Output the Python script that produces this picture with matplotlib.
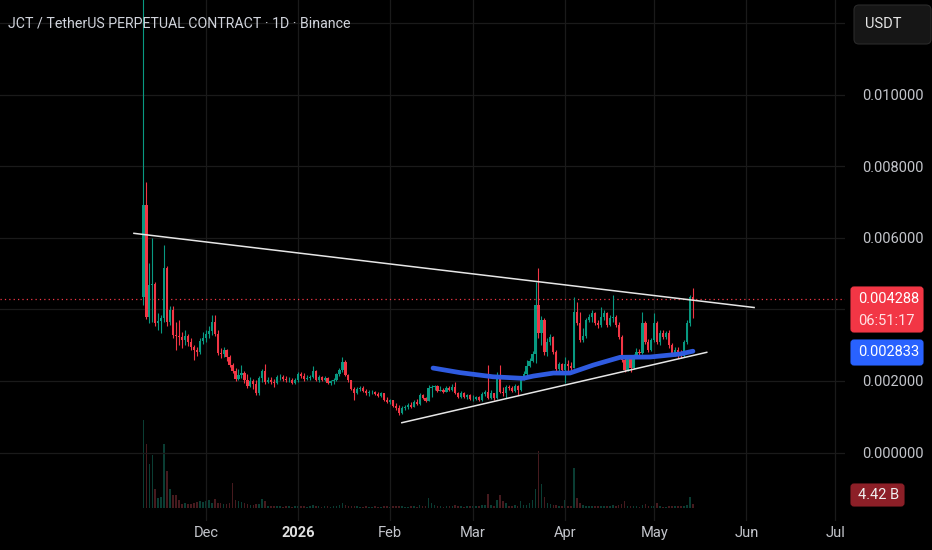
import numpy as np
import pandas as pd
import matplotlib
matplotlib.use("Agg")
import matplotlib.pyplot as plt
import matplotlib.dates as mdates
from matplotlib.patches import FancyBboxPatch
from matplotlib.transforms import IdentityTransform

plt.rcParams["font.family"] = ["Roboto", "DejaVu Sans"]

# daily candles, prices in micro-USDT (1e-6), first candle 2025-11-10
FIRST_DAY = "2025-11-10"
FIRST_OPEN = 4343
CLOSE = [
    6919, 3790, 4679, 4707, 3622, 3678, 3762, 5155, 3650, 3986, 3286, 3258, 3230, 3146, 3258, 3090, 2950, 2866, 2810,
    3118, 3202, 3314, 3398, 3650, 3314, 2782, 2754, 2866, 2670, 2446, 2278, 2054, 2166, 2222, 2026, 1858, 1998, 1914,
    1662, 2082, 2278, 1970, 2026, 1970, 1942, 2110, 2110, 2054, 2026, 2026, 1942, 2026, 2194, 2138, 2054, 2082, 2110,
    2278, 2026, 2110, 2026, 2082, 1942, 1998, 2026, 2194, 2306, 2530, 2166, 2026, 1774, 1662, 1774, 1802, 1718, 1662,
    1690, 1690, 1634, 1578, 1662, 1466, 1410, 1466, 1298, 1242, 1102, 1242, 1270, 1326, 1270, 1410, 1354, 1606, 1522,
    1438, 1802,
    1830, 1858, 1718, 1746, 1690, 1802, 1746, 1830, 1662, 1550, 1662, 1550, 1606, 1494, 1494, 1550, 1466, 1634, 1690,
    1522, 1662, 1522, 2166, 1690, 1662, 1830, 1802, 1718, 1858, 1746, 2082, 2194, 2418, 2558, 2754, 4126, 3342, 3706,
    2810, 3090, 3230, 2810, 2334, 2474, 2306, 2474, 2418, 2362,
    3930, 3622, 3146, 3258, 3706, 3790, 3902, 3622, 3566, 3790, 3902, 3566, 3762, 3790, 3566, 3230, 2586, 2306, 2642,
    2362, 2670, 2810, 2782, 3622, 3090, 2866, 3146, 3622, 3090, 3342, 3230, 3342, 3006, 2782, 2866, 2726, 2700, 3090,
    3622, 4343, 4288,
]
HIGH = [
    14000, 7563, 5295, 5995, 4763, 3902, 3846, 5799, 5211, 4098, 4098, 3650, 3706, 3370, 3426, 3314, 3202, 3006, 2950,
    3202, 3370, 3426, 3538, 3846, 3846, 3426, 2922, 2950, 2894, 2726, 2502, 2362, 2334, 2446, 2278, 2194, 2110, 2054,
    2026, 2138, 2334, 2474, 2110, 2110, 2054, 2166, 2194, 2166, 2138, 2110, 2082, 2082, 2250, 2250, 2222, 2166, 2166,
    2418, 2306, 2166, 2138, 2138, 2110, 2026, 2082, 2222, 2362, 2670, 2586, 2194, 2026, 1830, 1830, 1858, 1858, 1774,
    1746, 1746, 1718, 1690, 1690, 1662, 1550, 1494, 1466, 1382, 1326, 1298, 1326, 1382, 1410, 1466, 1494, 1662, 1634,
    1550, 1886,
    1886, 1886, 1886, 1858, 1802, 1858, 1858, 1914, 1970, 1690, 1718, 1690, 1634, 1634, 1606, 1578, 1578, 1690, 1746,
    2446, 1746, 1662, 2250, 2446, 1830, 1886, 1886, 1858, 1914, 1886, 2138, 2278, 2586, 2642, 2838, 4763, 5155, 3818,
    3762, 3202, 3314, 3258, 2866, 2530, 2502, 2670, 2586, 2530,
    4343, 4210, 3930, 3482, 3762, 3874, 3986, 3930, 3706, 4070, 3986, 3930, 3846, 4399, 3846, 3650, 3286, 2726, 2698,
    2726, 2754, 2922, 2894, 3930, 3678, 3174, 3202, 3902, 3678, 3426, 3426, 3398, 3426, 3062, 2950, 2950, 2866, 3146,
    3706, 4399, 4595,
]
LOW = [
    4126, 3734, 3622, 3650, 3538, 3426, 3342, 3650, 3538, 3566, 3202, 2866, 3006, 2922, 3006, 2978, 2866, 2586, 2698,
    2754, 3034, 3090, 3202, 3286, 3258, 2726, 2642, 2670, 2558, 2390, 2222, 1998, 2026, 2082, 1942, 1802, 1830, 1774,
    1606, 1606, 1970, 1914, 1942, 1914, 1830, 1914, 2026, 1998, 1970, 1970, 1914, 1914, 1970, 2082, 1998, 2026, 2026,
    2082, 1998, 1970, 1998, 1998, 1914, 1886, 1914, 1998, 2138, 2250, 2138, 1970, 1746, 1466, 1634, 1718, 1690, 1606,
    1578, 1634, 1606, 1550, 1550, 1438, 1382, 1354, 1270, 1186, 1046, 1074, 1186, 1214, 1242, 1270, 1326, 1326, 1494,
    1410, 1438,
    1550, 1746, 1690, 1718, 1662, 1690, 1718, 1718, 1634, 1522, 1522, 1522, 1494, 1466, 1438, 1466, 1438, 1438, 1578,
    1494, 1494, 1466, 1494, 1662, 1578, 1522, 1746, 1690, 1690, 1606, 1718, 2026, 2166, 2390, 2530, 2502, 3202, 3006,
    2726, 2698, 3006, 2754, 2250, 2250, 2278, 1942, 2250, 2306,
    2362, 3566, 3090, 3090, 3202, 3650, 3650, 3566, 3482, 3510, 3706, 3510, 3538, 3650, 3510, 3174, 2530, 2250, 2278,
    2250, 2334, 2642, 2698, 2754, 3034, 2810, 2838, 3090, 3034, 3006, 3174, 3174, 2922, 2726, 2698, 2642, 2642, 2670,
    3034, 3538, 3762,
]
VOLUME_B = [
    88, 64, 44, 53, 19, 10, 11, 64, 37, 19, 13, 13, 8, 4, 5, 4, 4, 5.5, 6.5, 7, 6.5, 7, 8, 5.5, 9, 5.5, 5, 4, 4.5, 5.5,
    25, 8, 7, 6, 5, 4.5, 3.5, 3.5,
    4.5, 4.5, 9, 7, 2.5, 2, 2, 2.5, 2, 1.5, 2, 2, 1.5, 2, 2.5, 2, 2, 1.5, 2, 3, 2.5, 2, 1.5, 2, 2, 1.5, 2, 2.5, 3, 5,
    3.5, 2.5, 2, 2.5, 2, 1.5, 1.5, 2, 1.5, 1.5, 2, 1.5, 1.5, 2, 2, 1.5, 2, 2, 2.5, 2, 1.5, 1.5, 2, 2, 1.5, 3, 2, 2, 10.5,
    5, 3, 2, 2, 1.5, 2, 2, 2.5, 3, 2, 2, 1.5, 2, 2, 2.5, 2, 2, 3, 3, 14, 3, 2, 8, 13, 7, 5, 2.5, 2, 3, 2.5,
    7, 3, 3, 5, 8, 19, 57, 24, 11, 5, 4, 3.5, 3, 2, 2.5, 8, 2.5, 2.5,
    40, 10.5, 5, 3, 2.5, 2, 2, 2.5, 2, 2.5, 2, 2.5, 2, 3, 2, 3, 4, 7, 2.5, 2.5, 2, 2, 1.5, 3, 4.5,
    2.5, 2, 2, 5, 2, 1.5, 1.5, 2, 2.5, 2, 2, 2, 2.5, 3, 11, 4.42,
]

# drawings: days after 2025-12-01, prices in micro-USDT
MA_DAYS = [76.5, 85.6, 96.7, 106.8, 110.3, 117, 122.6, 130.5, 139.5, 149.6, 159.7, 164]
MA_PRICE = [2362, 2234, 2118, 2074, 2138, 2222, 2222, 2446, 2662, 2670, 2754, 2833]
UPPER_DAYS = [-24.2, 184.6]
UPPER_PRICE = [6125, 4053]
LOWER_DAYS = [66.0, 168.65]
LOWER_PRICE = [835, 2801]

PRICE_TICKS = [0.0, 0.002, 0.004, 0.006, 0.008, 0.010, 0.012]
MONTHS = ["2025-12-01", "2026-01-01", "2026-02-01", "2026-03-01", "2026-04-01", "2026-05-01", "2026-06-01", "2026-07-01"]
MONTH_LABELS = ["Dec", "2026", "Feb", "Mar", "Apr", "May", "Jun", "Jul"]

BG = "#000000"
GRID = "#1a1a1a"
TXT = "#c3c5cb"
UP = "#089981"
DOWN = "#f23645"
W, H = 932, 550

close = np.array(CLOSE) / 1e6
opn = np.concatenate([[FIRST_OPEN], CLOSE[:-1]]) / 1e6
high = np.maximum(np.array(HIGH) / 1e6, np.maximum(opn, close))
low = np.minimum(np.array(LOW) / 1e6, np.minimum(opn, close))
dates = pd.date_range(FIRST_DAY, periods=len(CLOSE), freq="D")
x = mdates.date2num(dates)
up = close >= opn
colors = np.where(up, UP, DOWN)
base = mdates.date2num(pd.Timestamp("2025-12-01"))

fig = plt.figure(figsize=(W / 100, H / 100), dpi=100, facecolor=BG)
ax = fig.add_axes([0, 1 - 520.6 / H, 845 / W, 520.6 / H])
ax2 = ax.twinx()
ax.set_zorder(2)
ax2.set_zorder(1)
ax.patch.set_visible(False)
ax2.patch.set_facecolor(BG)

# volume, about 1 B per pixel, baseline a little above the time axis
vol_colors = np.where(up, "#0a3d33", "#461a1e")
ax2.bar(x, VOLUME_B, width=0.55, color=vol_colors, linewidth=0)
ax2.set_ylim(-12.6, 508)
ax2.set_yticks([])
for s in ax2.spines.values():
    s.set_visible(False)

# candles
ax.vlines(x, low, high, colors=colors, linewidth=0.8, zorder=3)
body = np.maximum(np.abs(close - opn), 0.000012)
ax.bar(x, body, bottom=np.minimum(opn, close), width=0.75, color=colors, linewidth=0, zorder=4)

# drawings
ax.plot(base + np.array(MA_DAYS), np.array(MA_PRICE) / 1e6, color="#2f5be0", linewidth=3.4,
        solid_capstyle="round", zorder=5)
ax.plot(base + np.array(UPPER_DAYS), np.array(UPPER_PRICE) / 1e6, color="#e6e6e6", linewidth=1.1, zorder=5)
ax.plot(base + np.array(LOWER_DAYS), np.array(LOWER_PRICE) / 1e6, color="#e6e6e6", linewidth=1.1, zorder=5)
ax.axhline(close[-1], color=DOWN, linestyle=(0, (1, 2.5)), linewidth=0.9, zorder=2)

ax.set_xlim(base - 69.29, base + 215.2)
ax.set_ylim(-68 / 35800, 452.6 / 35800)

ax.yaxis.tick_right()
ax.set_yticks(PRICE_TICKS)
ax.set_yticklabels(["" if t in (0.004, 0.012) else f"{t:.6f}" for t in PRICE_TICKS])
ax.tick_params(axis="y", length=0, pad=12, labelsize=10.5, labelcolor=TXT)
month_x = mdates.date2num(pd.to_datetime(MONTHS))
ax.set_xticks(month_x)
ax.set_xticklabels(MONTH_LABELS)
ax.tick_params(axis="x", length=0, pad=4, labelsize=10.5, labelcolor=TXT)
for lab in ax.get_xticklabels():
    if lab.get_text() == "2026":
        lab.set_fontweight("bold")
        lab.set_color("#e0e0e0")
ax.grid(True, color=GRID, linewidth=0.9)
ax.set_axisbelow(True)
for s in ax.spines.values():
    s.set_visible(False)

fig.text(8 / W, 1 - 23 / H, "JCT / TetherUS PERPETUAL CONTRACT · 1D · Binance", color="#d1d4dc",
         fontsize=10.2, va="center", ha="left")


def box(x0, y0, x1, y1, color, edge=None, r=3):
    p = FancyBboxPatch((x0, H - y1), x1 - x0, y1 - y0, boxstyle=f"round,pad=0,rounding_size={r}",
                       transform=IdentityTransform(), facecolor=color,
                       edgecolor=edge if edge else color, linewidth=0.8, zorder=10)
    fig.add_artist(p)


def label(xp, yp, s, color="white", size=10.5):
    fig.text(xp / W, 1 - yp / H, s, color=color, fontsize=size, va="center", ha="left", zorder=11)


box(854, 5, 931, 44, "#161616", edge="#2a2a2a", r=5)
label(865, 24, "USDT", color="#e6e6e6")
box(851, 287, 923, 332, DOWN)
label(858, 299, f"{close[-1]:.6f}")
label(858, 321, "06:51:17", color="#ffe0e3")
box(851, 340, 923, 365, "#2962ff")
label(858, 352, f"{MA_PRICE[-1] / 1e6:.6f}")
box(851, 484, 904, 506, "#8c1f27")
label(858, 495, f"{VOLUME_B[-1]:.2f} B", color="#f0f0f0")

fig.savefig("out.png", dpi=100, facecolor=BG)
